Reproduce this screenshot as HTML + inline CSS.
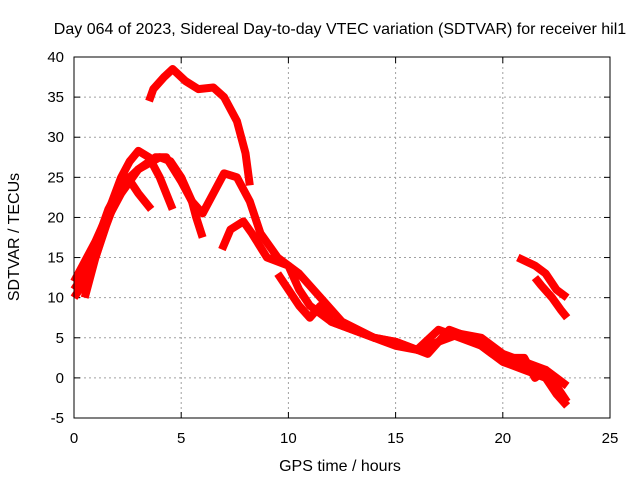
<!DOCTYPE html>
<html><head><meta charset="utf-8"><style>
body{margin:0;background:#fff;}
svg{display:block;font-family:"Liberation Sans",sans-serif;font-size:15px;}
.lab{font-size:16px;}
</style></head><body>
<svg id="chart" width="640" height="480">
<text class="lab" x="340" y="34" text-anchor="middle">Day 064 of 2023, Sidereal Day-to-day VTEC variation (SDTVAR) for receiver hil1</text>
<text class="lab" x="340" y="471" text-anchor="middle">GPS time / hours</text>
<text class="lab" transform="translate(19,237) rotate(-90)" text-anchor="middle">SDTVAR / TECUs</text>
<g id="grid"></g><g id="ticks"></g><g id="series"></g>
<rect x="74" y="57" width="536" height="361" fill="none" stroke="#000" stroke-width="1"/>
</svg>
<script>
const xTicks=[0,5,10,15,20,25];
const yTicks=[-5,0,5,10,15,20,25,30,35,40];
const s1x=[3.5,3.7,4.2,4.6,5.2,5.8,6.5,7.0,7.6,8.0,8.2];
const s1y=[34.5,36,37.5,38.5,37,36,36.2,35,32,28,24];
const s2x=[0,0.5,1.0,1.5,2.2,3.0,4.0,4.5,5.0,5.5,5.7,6.0];
const s2y=[10,12,15,19,24,26,27.5,27,25,22,20,17.5];
const s3x=[0,0.4,1.0,1.5,2.2,2.6,3.0,3.5,4.0,4.3,4.6];
const s3y=[12,14,17,20,25,27,28.3,27.5,25,23,21];
const s4x=[0,0.5,1.2,1.6,2.0,2.5,3.0,3.3,3.6];
const s4y=[11,13,18,21,23,25,23,22,21];
const s5x=[0.5,1.0,1.6,2.2,3.0,3.8,4.3,5.0,5.5,6.0,6.5,7.0,7.6,8.2,8.7,9.5,10.5,11.5,12.5,14.0,15.0,16.0,17.0,18.0,19.0,20.0,21.0,22.0,22.5,23.0];
const s5y=[10,15,20,23,26,27.5,27.5,24.5,22,20.5,23,25.5,25,22,18,15,13,10,7,5,4.5,3.5,4.5,5.5,4,2,1,0,-2,-3.5];
const s6x=[6.9,7.3,7.9,8.3,9.0,10.0,10.5,11.0,12.0,13.0,14.0,15.0,15.5,16.0,16.5,17.0,17.5,18.0,19.0,20.0,21.0,22.0,22.5,23.0];
const s6y=[16,18.5,19.5,18,15,14,11,9,7,6,5,4.5,4,3.5,3,4.5,6,5.5,5,3,2,1,0,-1];
const s7x=[9.5,10.0,10.5,11.0,11.5,12.0,13.0,14.0,15.0,16.0,17.0,18.0,19.0,19.5,20.0,21.0,21.5,22.0,22.5,23.0];
const s7y=[13,11,9,7.5,9,7,6,5,4,3.5,6,5,4,3,2.5,2.5,0,1,-1,-3];
const s8x=[20.7,21.5,22.0,22.5,23.0];
const s8y=[15,14,13,11,10];
const s9x=[21.5,21.8,22.3,22.7,23.0];
const s9y=[12.5,11.5,10,8.5,7.5];
const seriesX=[s1x,s2x,s3x,s4x,s5x,s6x,s7x,s8x,s9x];
const seriesY=[s1y,s2y,s3y,s4y,s5y,s6y,s7y,s8y,s9y];
const X0=74,X1=610,Y0=418,Y1=57;
const sx=v=>X0+(v-0)/25*(X1-X0);
const sy=v=>Y0-(v+5)/45*(Y0-Y1);
const NS="http://www.w3.org/2000/svg";
const g=document.getElementById('grid'),t=document.getElementById('ticks'),se=document.getElementById('series');
function mk(tag,attrs,parent){const e=document.createElementNS(NS,tag);for(const k in attrs)e.setAttribute(k,attrs[k]);parent.appendChild(e);return e;}
xTicks.forEach(v=>{const x=sx(v);
 if(v>0&&v<25){const l=mk('line',{x1:x,x2:x,y1:Y1,y2:Y0,stroke:'#a0a0a0','stroke-dasharray':'2,3'},g);
 
 }
 mk('line',{x1:x,x2:x,y1:Y0,y2:Y0-6,stroke:'#000'},t);mk('line',{x1:x,x2:x,y1:Y1,y2:Y1+6,stroke:'#000'},t);
 const tx=mk('text',{x:x,y:Y0+25,'text-anchor':'middle'},t);tx.textContent=v;
 
 });
yTicks.forEach(v=>{const y=sy(v);
 if(v>-5&&v<40){const l=mk('line',{x1:X0,x2:X1,y1:y,y2:y,stroke:'#a0a0a0','stroke-dasharray':'2,3'},g);
 
 }
 mk('line',{x1:X0,x2:X0+6,y1:y,y2:y,stroke:'#000'},t);mk('line',{x1:X1,x2:X1-6,y1:y,y2:y,stroke:'#000'},t);
 const tx=mk('text',{x:X0-10,y:y+5,'text-anchor':'end'},t);tx.textContent=v;
 
 });
seriesX.forEach((xs,i)=>{const ys=seriesY[i];
 const pts=xs.map((x,j)=>sx(x)+','+sy(ys[j])).join(' ');
 const p=mk('polyline',{points:pts,fill:'none',stroke:'#ff0000','stroke-width':8,'stroke-linejoin':'round','stroke-linecap':'butt'},se);
 
 });
</script>
</body></html>
